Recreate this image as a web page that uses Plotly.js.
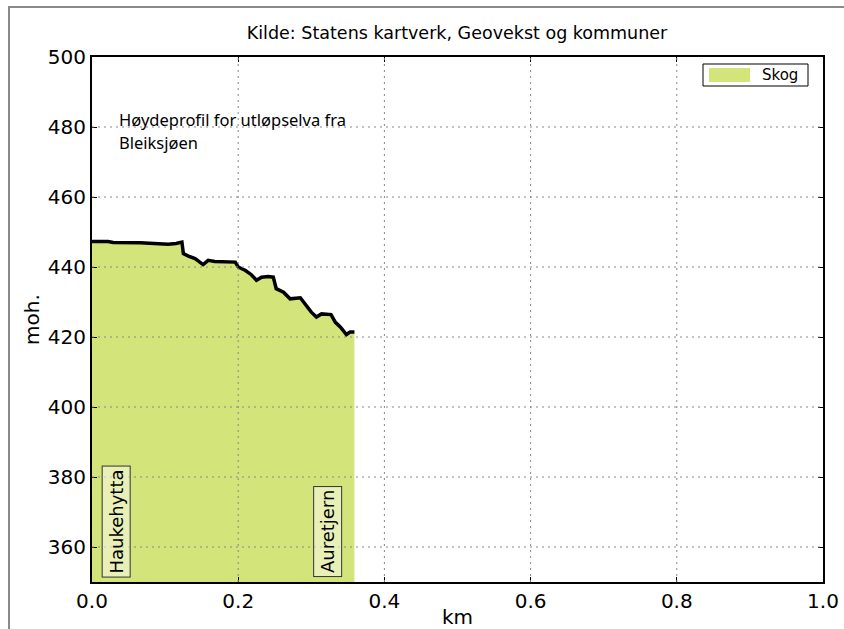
<!DOCTYPE html>
<html>
<head>
<meta charset="utf-8">
<script src="https://cdn.plot.ly/plotly-3.0.1.min.js"></script>
<style>
  html, body { margin: 0; padding: 0; background: #fff; }
  #wrap { position: relative; width: 844px; height: 629px; overflow: hidden; }
  #chart { position: absolute; left: 0; top: 0; width: 844px; height: 629px; }
  #frame { position: absolute; left: 8px; top: 6px; width: 900px; height: 700px;
           border-top: 2px solid #8a8a8a; border-left: 2px solid #8a8a8a; pointer-events: none; }
</style>
</head>
<body>
<div id="wrap">
  <div id="chart"></div>
  <div id="frame"></div>
</div>
<script>
// Distance along the river (km)
const distanceKm = [0.000, 0.022, 0.029, 0.066, 0.104, 0.115, 0.123, 0.125, 0.132, 0.141,
                    0.152, 0.159, 0.168, 0.196, 0.200, 0.210, 0.218, 0.225, 0.232, 0.241,
                    0.248, 0.252, 0.262, 0.271, 0.285, 0.292, 0.300, 0.307, 0.314, 0.327,
                    0.333, 0.340, 0.348, 0.353, 0.359];
// Elevation (moh.)
const elevation = [447.3, 447.3, 447.0, 446.9, 446.5, 446.7, 447.1, 443.8, 443.1, 442.4,
                   440.7, 441.9, 441.6, 441.4, 440.0, 439.0, 437.8, 436.2, 437.1, 437.3,
                   437.1, 433.8, 432.8, 430.9, 431.2, 429.2, 427.1, 425.7, 426.6, 426.4,
                   424.2, 422.8, 420.7, 421.4, 421.4];

const landCoverName = "Skog";
const placeNames = ["Haukehytta", "Auretjern"];
const placeKm = [0.033, 0.323];

const xTicks = [0.0, 0.2, 0.4, 0.6, 0.8, 1.0];
const yTicks = [360, 380, 400, 420, 440, 460, 480, 500];

const chartTitle = "Kilde: Statens kartverk, Geovekst og kommuner";
const noteLines = ["Høydeprofil for utløpselva fra", "Bleiksjøen"];

const fillColor = "#d3e47a";
const baseFont = "DejaVu Sans, sans-serif";
const xRange = [0, 1];
const yRange = [350, 500];

const traces = [
  {
    x: distanceKm, y: elevation, type: "scatter", mode: "lines",
    fill: "tozeroy", fillcolor: fillColor,
    line: { width: 0, color: fillColor },
    name: landCoverName, showlegend: false, hoverinfo: "skip"
  },
  {
    x: distanceKm, y: elevation, type: "scatter", mode: "lines",
    line: { width: 3.5, color: "#000000", shape: "linear" },
    showlegend: false
  }
];

const axisCommon = {
  showline: true, linewidth: 2, linecolor: "#000", mirror: "allticks",
  ticks: "inside", ticklen: 5, tickwidth: 1, tickcolor: "#000",
  showgrid: false, zeroline: false, layer: "above traces",
  tickfont: { family: baseFont, size: 20, color: "#000" }
};

const gridStyle = { color: "#888888", width: 1, dash: "2px,4px" };
const shapes = [];
xTicks.forEach(v => {
  if (v > xRange[0] && v < xRange[1]) {
    shapes.push({ type: "line", xref: "x", yref: "y", x0: v, x1: v, y0: yRange[0], y1: yRange[1],
                  line: gridStyle, layer: "above" });
  }
});
yTicks.forEach(v => {
  if (v > yRange[0] && v < yRange[1]) {
    shapes.push({ type: "line", xref: "x", yref: "y", x0: xRange[0], x1: xRange[1], y0: v, y1: v,
                  line: gridStyle, layer: "above" });
  }
});
shapes.push(
  { type: "rect", xref: "paper", yref: "paper",
    x0: (703 - 92) / 731, x1: (808 - 92) / 731, y0: (582 - 86) / 525, y1: (582 - 64) / 525,
    line: { color: "#000", width: 1 }, fillcolor: "#fff", layer: "above" },
  { type: "rect", xref: "paper", yref: "paper",
    x0: (709 - 92) / 731, x1: (750 - 92) / 731, y0: (582 - 82) / 525, y1: (582 - 68) / 525,
    line: { width: 0 }, fillcolor: fillColor, layer: "above" }
);

const annotations = [
  { xref: "paper", yref: "paper", x: 0.034, y: (582 - 119) / 525, xanchor: "left", yanchor: "middle",
    text: noteLines[0], showarrow: false, font: { family: "Noto Sans, sans-serif", size: 16.5, color: "#000" } },
  { xref: "paper", yref: "paper", x: 0.034, y: (582 - 142) / 525, xanchor: "left", yanchor: "middle",
    text: noteLines[1], showarrow: false, font: { family: "Noto Sans, sans-serif", size: 16.5, color: "#000" } },
  { xref: "paper", yref: "paper", x: (780 - 92) / 731, y: (582 - 75) / 525, xanchor: "center", yanchor: "middle",
    text: landCoverName, showarrow: false, font: { family: baseFont, size: 15, color: "#000" } }
];
placeNames.forEach((name, i) => {
  annotations.push({
    x: placeKm[i], y: 351.3, xref: "x", yref: "y", text: name, showarrow: false,
    textangle: -90, xanchor: "center", yanchor: "bottom",
    bgcolor: "rgba(250,250,235,0.55)", bordercolor: "#333", borderwidth: 1, borderpad: 3,
    font: { family: baseFont, size: 18, color: "#000" }
  });
});

const layout = {
  width: 844, height: 629,
  margin: { l: 92, r: 21, t: 57, b: 47, pad: 0 },
  paper_bgcolor: "#fff", plot_bgcolor: "#fff",
  showlegend: false,
  title: { text: chartTitle, x: 0.5415, xanchor: "center", y: 1 - 33 / 629, yanchor: "middle",
           font: { family: baseFont, size: 17.5, color: "#000" } },
  xaxis: Object.assign({}, axisCommon, {
    range: xRange, tickvals: xTicks, tickformat: ".1f",
    title: { text: "km", standoff: 6, font: { family: baseFont, size: 20, color: "#000" } }
  }),
  yaxis: Object.assign({}, axisCommon, {
    range: yRange, tickvals: yTicks,
    title: { text: "moh.", standoff: 3, font: { family: baseFont, size: 20, color: "#000" } }
  }),
  annotations: annotations,
  shapes: shapes
};

Plotly.newPlot("chart", traces, layout, { displayModeBar: false, staticPlot: true });
</script>
</body>
</html>
